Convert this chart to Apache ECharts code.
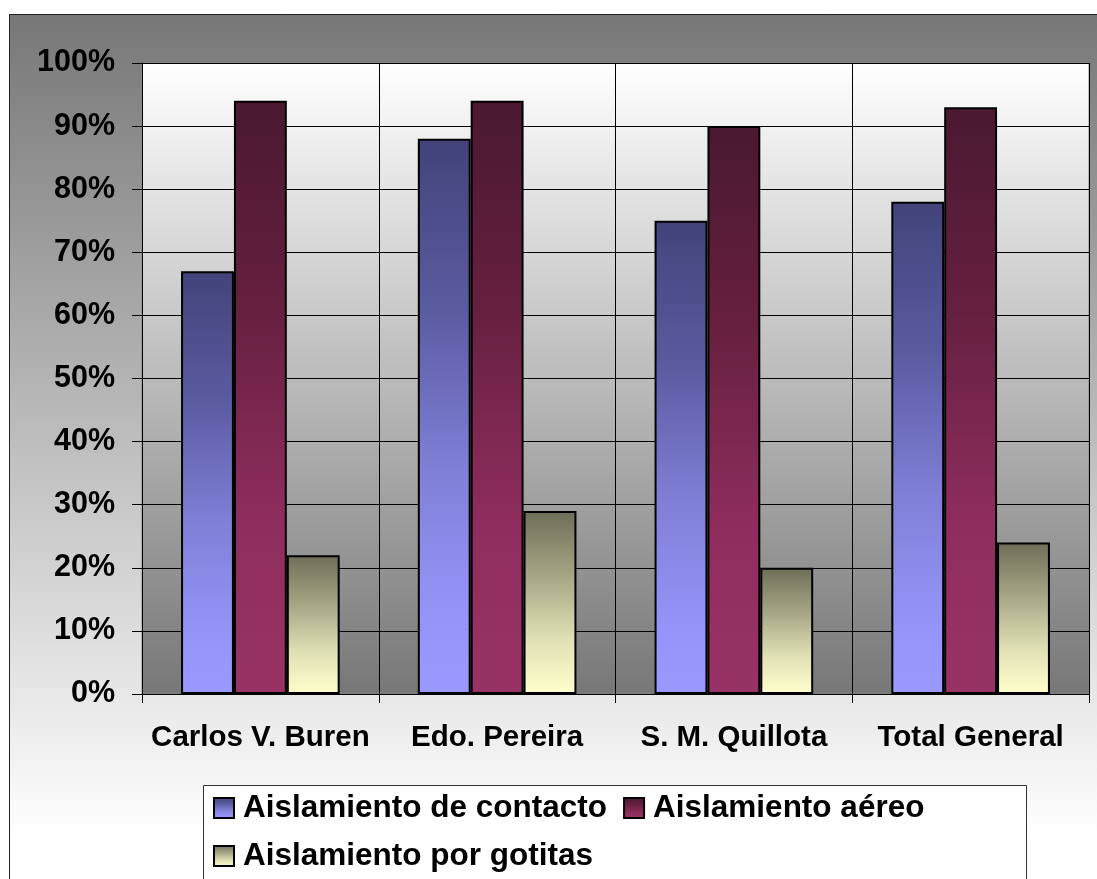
<!DOCTYPE html>
<html>
<head>
<meta charset="utf-8">
<script src="https://cdn.jsdelivr.net/npm/echarts@6/dist/echarts.min.js"></script>
<style>
  html, body { margin: 0; padding: 0; background: #ffffff; }
  #chart { width: 1097px; height: 879px; }
</style>
</head>
<body>
<div id="chart"></div>
<script>
// Hospitals / units compared
const categories = ['Carlos V. Buren', 'Edo. Pereira', 'S. M. Quillota', 'Total General'];

// Share of compliance per isolation type (%)
const contacto = [67, 88, 75, 78];
const aereo = [94, 94, 90, 93];
const gotitas = [22, 29, 20, 24];

const seriesNames = ['Aislamiento de contacto', 'Aislamiento aéreo', 'Aislamiento por gotitas'];

const FONT = '"Liberation Sans", Arial, sans-serif';

function vGrad(stops) {
  return {
    type: 'linear', x: 0, y: 0, x2: 0, y2: 1,
    colorStops: stops.map(s => ({ offset: s[0], color: s[1] }))
  };
}

const fills = [
  vGrad([[0, '#43437a'], [0.3, '#5a5aa0'], [0.6, '#8080d8'], [0.85, '#9494f8'], [1, '#9999ff']]),
  vGrad([[0, '#4a1830'], [0.35, '#66203f'], [0.7, '#8e2d5d'], [1, '#993366']]),
  vGrad([[0, '#6e6e58'], [0.35, '#a5a585'], [0.7, '#e0e0b5'], [1, '#ffffcc']])
];

const seriesData = [contacto, aereo, gotitas];

const chart = echarts.init(document.getElementById('chart'), null, { renderer: 'canvas' });

chart.setOption({
  animation: false,
  textStyle: { fontFamily: FONT },
  graphic: [
    {
      type: 'rect', z: -100, silent: true,
      shape: { x: 9, y: 14, width: 1100, height: 823 },
      style: { fill: vGrad([[0, '#777777'], [1, '#ffffff']]) }
    },
    {
      type: 'polyline', z: -90, silent: true,
      shape: { points: [[9.5, 879], [9.5, 14.5], [1097, 14.5]] },
      style: { stroke: '#222222', lineWidth: 1, fill: null }
    },
    {
      type: 'rect', z: 50, silent: true,
      shape: { x: 203.5, y: 785.5, width: 823, height: 100 },
      style: { fill: '#ffffff', stroke: '#333333', lineWidth: 1 }
    }
  ],
  grid: {
    left: 142, top: 63, right: 8, bottom: 185,
    show: true,
    backgroundColor: vGrad([[0, '#ffffff'], [1, '#777777']]),
    borderColor: '#888888',
    borderWidth: 1
  },
  legend: {
    data: seriesNames,
    left: 213, top: 792,
    width: 780,
    padding: 0,
    itemGap: 16,
    itemWidth: 20, itemHeight: 20,
    icon: 'rect',
    z: 60,
    textStyle: { fontFamily: FONT, fontSize: 31.5, fontWeight: 'bold', color: '#000000', padding: [0, 0, 0, 4] }
  },
  xAxis: {
    type: 'category',
    data: categories,
    axisLine: { show: true, lineStyle: { color: '#000000', width: 1 } },
    axisTick: { show: true, interval: 0, length: 9, lineStyle: { color: '#000000' } },
    splitLine: { show: true, interval: 0, lineStyle: { color: '#000000', width: 1 } },
    axisLabel: {
      interval: 0,
      fontFamily: FONT, fontSize: 29.5, fontWeight: 'bold', color: '#000000', margin: 29
    }
  },
  yAxis: {
    type: 'value',
    min: 0, max: 100, interval: 10,
    axisLine: { show: true, lineStyle: { color: '#000000', width: 1 } },
    axisTick: { show: true, length: 10, lineStyle: { color: '#000000' } },
    splitLine: { show: true, lineStyle: { color: '#000000', width: 1 } },
    axisLabel: {
      formatter: '{value}%',
      fontFamily: FONT, fontSize: 30.5, fontWeight: 'bold', color: '#000000', margin: 27
    }
  },
  series: seriesNames.map((name, i) => ({
    name: name,
    type: 'bar',
    data: seriesData[i],
    barGap: '0%',
    barCategoryGap: '33%',
    itemStyle: { color: fills[i], borderColor: '#000000', borderWidth: 2 }
  }))
});
</script>
</body>
</html>
